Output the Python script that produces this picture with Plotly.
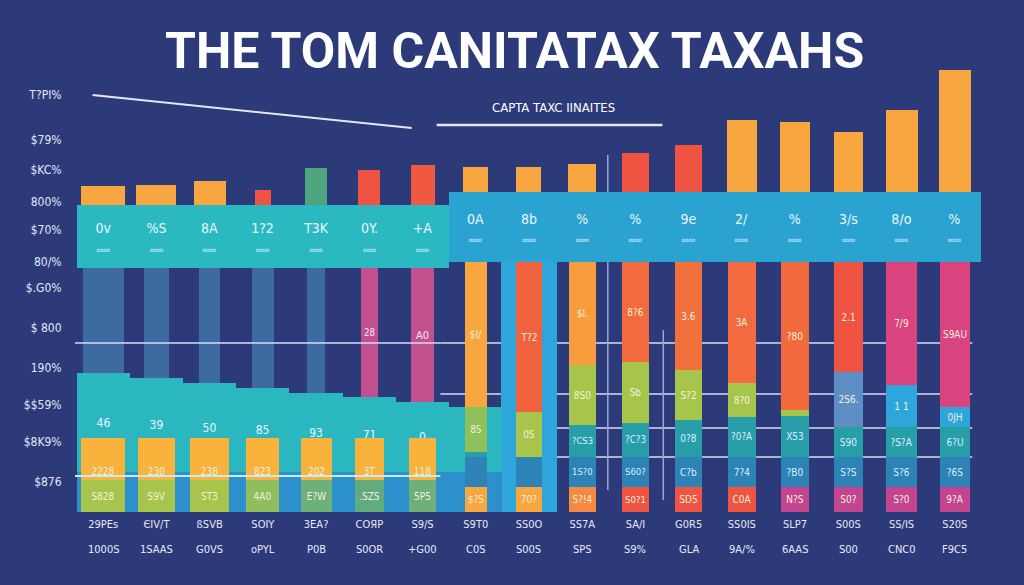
import plotly.graph_objects as go

# ---------------- data ----------------
row1_labels = ["29PEs", "ЄIV/T", "ßSVB", "SOIY", "3EA?", "COЯP", "S9/S", "S9T0", "SS0O",
               "SS7A", "SA/I", "G0R5", "SS0IS", "SLP7", "S00S", "SS/IS", "S20S"]
row2_labels = ["1000S", "1SAAS", "G0VS", "oPYL", "P0B", "S0OR", "+G00", "C0S", "S00S",
               "SPS", "S9%", "GLA", "9A/%", "6AAS", "S00", "CNC0", "F9C5"]

ytick_vals = [417, 372, 342, 310, 282, 250, 224, 184, 144, 107, 70, 30]
ytick_text = ["T?PI%", "$79%", "$KC%", "800%", "$70%", "80/%", "$.G0%", "$ 800",
              "190%", "$$59%", "$8K9%", "$876"]

# wide band across all columns
band_base = [244] * 7 + [250] * 10
band_height = [63] * 7 + [70] * 10
band_text = ["0v", "%S", "8A", "1?2", "T3K", "0Y.", "+A", "0A", "8b", "%",
             "%", "9e", "2/", "%", "3/s", "8/o", "%"]

# bars above the band
top_heights = [19, 20, 24, 15, 37, 35, 40, 25, 25, 28, 39, 47, 72, 70, 60, 82, 122]

# left group (columns 0..7)
left_strip = [40] * 8
left_teal_top = [139, 134, 129, 124, 119, 115, 110, 105]
left_teal_text = ["46", "39", "50", "85", "93", "71", "0", ""]
left_muted_text = ["", "", "", "", "", "28", "A0"]
left_green = [32, 32, 32, 32, 32, 32, 32]
left_green_text = ["S828", "S9V", "ST3", "4A0", "E?W", ".SZS", "5P5"]
left_yellow = [42, 42, 42, 42, 42, 42, 42]
left_yellow_text = ["2228", "230", "238", "823", "202", "3T", "118"]

# right group (columns 7..16), bottom to top
r_bottom = [25] * 10
r_bottom_text = ["$?5", "70?", "S?!4", "S0?1", "SD5", "C0A", "N?S", "S0?", "S?0", "9?A"]
r_teal2 = [30] * 10
r_teal2_text = ["", "", "1S?0", "S60?", "C?b", "7?4", "?B0", "S?S", "S?6", "?6S"]
r_teal1 = [5, 0, 32, 34, 37, 40, 41, 30, 30, 30]
r_teal1_text = ["", "", "?CS3", "?C?3", "0?8", "?0?A", "X53", "S90", "?S?A", "6?U"]
r_mid = [45, 45, 60, 61, 50, 34, 6, 55, 42, 20]
r_mid_text = ["8S", "0S", "8S0", "Sb", "S?2", "8?0", "", "2S6.", "1 1", "0JH"]
r_top = [145, 150, 103, 100, 108, 121, 148, 110, 123, 145]
r_top_text = ["$I/", "T?2", "$I.", "8?6", "3.6", "3A", "?80", "2.1", "7/9", "S9AU"]

backdrop_col8 = [250]

# ---------------- styles ----------------
BG = "#2d3a7a"
ORANGE = "#f7a640"
RED = "#ef5443"
REDOR = "#f26a3d"
MAG = "#d9447f"
MAG2 = "#c4448f"
GREEN = "#a8c54b"
TEAL = "#2bb7bf"
BLUE = "#2aa3d1"
LBLUE = "#2ea6dc"
TXT = "#f2f0dc"
FONT = "DejaVu Sans Condensed"

top_colors = [ORANGE, ORANGE, ORANGE, RED, "#4fa57d", RED, "#f0583f", ORANGE, ORANGE, ORANGE,
              RED, RED, ORANGE, ORANGE, ORANGE, ORANGE, ORANGE]
top_widths = [0.82, 0.75, 0.6, 0.3, 0.42, 0.42, 0.45, 0.47, 0.47, 0.52, 0.52, 0.52,
              0.56, 0.55, 0.55, 0.6, 0.6]
band_colors = ["#2ab9c0"] * 7 + [BLUE] * 10
muted_colors = ["#3e6b9f"] * 5 + ["#c2508f", "#c2508f"]
muted_widths = [0.77, 0.48, 0.4, 0.4, 0.35, 0.32, 0.43]
yellow_widths = [0.82, 0.7, 0.72, 0.62, 0.58, 0.55, 0.5]
green_colors = [GREEN, GREEN, GREEN, "#8fbe5e", "#6db07a", "#62aa80", "#6fb07a"]
r_widths = [0.42, 0.5, 0.5, 0.52, 0.5, 0.53, 0.54, 0.55, 0.57, 0.57]
r_bottom_colors = [ORANGE, ORANGE, "#f5893f", RED, RED, RED, MAG2, MAG2, MAG2, MAG2]
r_mid_colors = ["#8fc05a", GREEN, GREEN, GREEN, GREEN, GREEN, GREEN, "#5d8ec6", LBLUE, LBLUE]
r_top_colors = [ORANGE, "#f0623e", "#f79d3e", REDOR, "#f2703c", REDOR, "#f2693c", RED, MAG, MAG]

cats = row1_labels
left8 = cats[:8]
left7 = cats[:7]
right = cats[7:]


def add_bar(fig, x, y, base, color, width, text=None, anchor="middle", size=10, tcolor=TXT):
    fig.add_trace(go.Bar(
        x=x, y=y, base=base, width=width, marker=dict(color=color, line=dict(width=0)),
        text=text, textposition="inside" if text is not None else "none",
        insidetextanchor=anchor, textangle=0,
        textfont=dict(family=FONT, size=size, color=tcolor),
        hoverinfo="skip", showlegend=False))


fig = go.Figure()

# backdrops
add_bar(fig, [cats[8]], backdrop_col8, [0], LBLUE, 1.05)
add_bar(fig, left8, left_strip, [0] * 8, "#2b90cc", 1.0)
teal_h = [t - s for t, s in zip(left_teal_top, left_strip)]
add_bar(fig, left8, teal_h, left_strip, TEAL, 1.0, left_teal_text, "middle", 12, "#e9f7ff")

# muted strips below band (left)
muted_h = [b - t for b, t in zip(band_base[:7], left_teal_top[:7])]
add_bar(fig, left7, muted_h, left_teal_top[:7], muted_colors, muted_widths,
        left_muted_text, "middle", 11, "#f5e6f2")

# band
add_bar(fig, cats, band_height, band_base, band_colors, 1.0,
        [t + "<br><span style='font-size:6px'>oooo</span>" for t in band_text], "middle", 14, "#eaf6ff")

# left yellow + green
add_bar(fig, left7, left_green, [0] * 7, green_colors, yellow_widths, left_green_text, "middle", 10)
add_bar(fig, left7, left_yellow, left_green, "#f9b23c", yellow_widths, left_yellow_text, "start", 10)

# right stacks
b1 = r_bottom
b2 = [a + b for a, b in zip(b1, r_teal2)]
b3 = [a + b for a, b in zip(b2, r_teal1)]
b4 = [a + b for a, b in zip(b3, r_mid)]
add_bar(fig, right, r_bottom, [0] * 10, r_bottom_colors, r_widths, r_bottom_text, "middle", 10)
add_bar(fig, right, r_teal2, b1, "#2d82b6", r_widths, r_teal2_text, "middle", 10, "#d8eefc")
add_bar(fig, right, r_teal1, b2, "#279ea8", r_widths, r_teal1_text, "middle", 10, "#d8eefc")
add_bar(fig, right, r_mid, b3, r_mid_colors, r_widths, r_mid_text, "middle", 10)
add_bar(fig, right, r_top, b4, r_top_colors, r_widths, r_top_text, "middle", 10)

# top bars above band
top_base = [b + h for b, h in zip(band_base, band_height)]
add_bar(fig, cats, top_heights, top_base, top_colors, top_widths)

# ---------------- decoration ----------------
LINE = "#d6dcf5"
shapes = [
    dict(type="line", xref="paper", yref="y", x0=0, x1=0.395, y0=169, y1=169,
         line=dict(color=LINE, width=1.5), layer="above"),
    dict(type="line", xref="paper", yref="y", x0=0.395, x1=0.97, y0=169, y1=169,
         line=dict(color=LINE, width=1.5), layer="below"),
    dict(type="line", xref="paper", yref="y", x0=0.395, x1=0.97, y0=118, y1=118,
         line=dict(color=LINE, width=1.5), layer="below"),
    dict(type="line", xref="paper", yref="y", x0=0.5, x1=0.97, y0=84, y1=84,
         line=dict(color=LINE, width=1.5), layer="below"),
    dict(type="line", xref="paper", yref="y", x0=0.43, x1=0.97, y0=55, y1=55,
         line=dict(color=LINE, width=1.5), layer="below"),
    dict(type="line", xref="paper", yref="y", x0=0, x1=0.395, y0=36, y1=36,
         line=dict(color="#c4ecf6", width=2), layer="above"),
    dict(type="line", xref="paper", yref="y", x0=0.576, x1=0.576, y0=22, y1=357,
         line=dict(color="#9aa6e0", width=1.5), layer="below"),
    dict(type="line", xref="paper", yref="y", x0=0.636, x1=0.636, y0=12, y1=182,
         line=dict(color="#9aa6e0", width=1.5), layer="below"),
    dict(type="line", xref="paper", yref="paper", x0=0.019, x1=0.364, y0=0.933, y1=0.859,
         line=dict(color="#e3e7f8", width=2)),
    dict(type="line", xref="paper", yref="paper", x0=0.391, x1=0.635, y0=0.866, y1=0.866,
         line=dict(color="#e3e7f8", width=2.5)),
]

annotations = [
    dict(text="<b>THE TOM CANITATAX TAXAHS</b>", xref="paper", yref="paper", x=0.475, y=1.031,
         showarrow=False, font=dict(family="Roboto", size=50, color="white"),
         xanchor="center", yanchor="middle"),
    dict(text="CAPTA TAXC IINAITES", xref="paper", yref="paper", x=0.517, y=0.904,
         showarrow=False, font=dict(family="DejaVu Sans Condensed", size=13, color="white"),
         xanchor="center", yanchor="middle"),
]
for c, t in zip(cats, row2_labels):
    annotations.append(dict(text=t, x=c, xref="x", yref="paper", y=-0.083, showarrow=False,
                            font=dict(family=FONT, size=11, color="#e6e9f7"),
                            xanchor="center", yanchor="middle"))

fig.update_layout(
    width=1024, height=585,
    margin=dict(l=75, r=24, t=65, b=73),
    paper_bgcolor=BG, plot_bgcolor=BG,
    barmode="overlay", bargap=0,
    showlegend=False,
    shapes=shapes, annotations=annotations,
    xaxis=dict(type="category", categoryorder="array", categoryarray=cats,
               range=[-0.53, 16.85], tickmode="array", tickvals=cats, ticktext=cats,
               showgrid=False, zeroline=False, showline=False,
               ticks="outside", ticklen=2, tickcolor="rgba(0,0,0,0)",
               tickfont=dict(family=FONT, size=11, color="#e6e9f7")),
    yaxis=dict(range=[0, 447], tickmode="array", tickvals=ytick_vals, ticktext=ytick_text,
               showgrid=False, zeroline=False, showline=False,
               ticks="outside", ticklen=10, tickcolor="rgba(0,0,0,0)",
               tickfont=dict(family=FONT, size=12, color="#e2e6f6")),
)

fig.write_html(
    "out.html",
    config={"displayModeBar": False},
    post_script="document.body.style.margin='0';document.body.style.overflow='hidden';"
                "document.body.style.background='" + BG + "';",
)
